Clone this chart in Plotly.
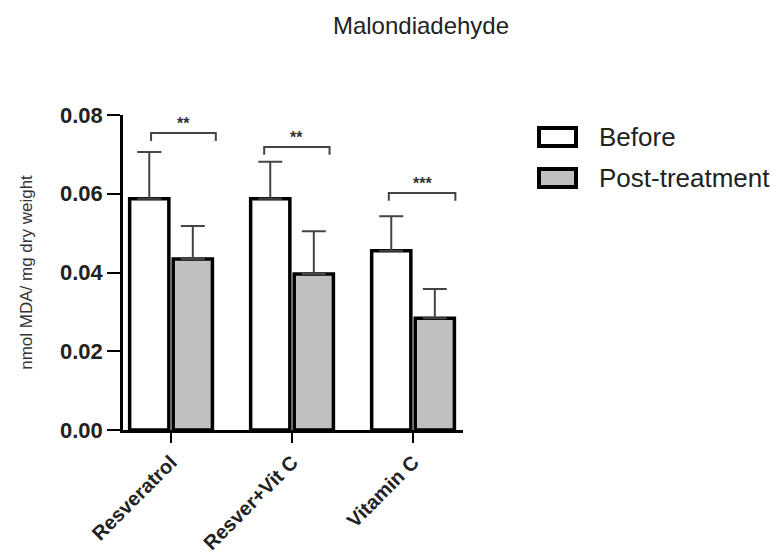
import plotly.graph_objects as go

categories = ["Resveratrol", "Resver+Vit C", "Vitamin C"]
before = [0.0587, 0.0587, 0.0455]
before_err = [0.0119, 0.0094, 0.0088]
post = [0.0434, 0.0396, 0.0284]
post_err = [0.0084, 0.0109, 0.0074]
series_names = ["Before", "Post-treatment"]
series_fill = ["white", "#c0c0c0"]
sig_labels = ["**", "**", "***"]
sig_y = [0.0754, 0.0719, 0.0602]
y_ticks = [0.0, 0.02, 0.04, 0.06, 0.08]

font_family = "Liberation Sans, Arial, sans-serif"

fig = go.Figure()
for name, vals, errs, fill in zip(series_names, [before, post], [before_err, post_err], series_fill):
    fig.add_trace(go.Bar(
        x=categories, y=vals, name=name,
        marker=dict(color=fill, line=dict(color="black", width=3.5)),
        error_y=dict(type="data", array=errs, arrayminus=[0] * len(errs), symmetric=False,
                     color="#444444", thickness=2, width=12),
        showlegend=False,
    ))

offsets = [(-0.165, 0.37), (-0.23, 0.31), (-0.2, 0.35)]
for i, (lab, yb) in enumerate(zip(sig_labels, sig_y)):
    x0 = i + offsets[i][0]
    x1 = i + offsets[i][1]
    drop = 0.002
    fig.add_shape(type="path",
                  path=f"M {x0} {yb-drop} L {x0} {yb} L {x1} {yb} L {x1} {yb-drop}",
                  xref="x", yref="y", line=dict(color="#444444", width=2))
    fig.add_annotation(x=(x0 + x1) / 2, y=yb, text=f"<b>{lab}</b>", showarrow=False,
                       xref="x", yref="y", yanchor="bottom", yshift=-1,
                       font=dict(size=16, color="#333333", family=font_family))

# legend drawn as boxes + labels (paper coordinates)
plot_l, plot_r, plot_t, plot_b = 123, 463, 115, 430
pw, ph = plot_r - plot_l, plot_b - plot_t
def px_x(px):
    return (px - plot_l) / pw
def px_y(py):
    return (plot_b - py) / ph
legend_rows = [137, 178]
for name, fill, yc in zip(series_names, series_fill, legend_rows):
    fig.add_shape(type="rect", xref="paper", yref="paper",
                  x0=px_x(539), x1=px_x(576), y0=px_y(yc + 9), y1=px_y(yc - 9),
                  fillcolor=fill, line=dict(color="black", width=4))
    fig.add_annotation(xref="paper", yref="paper", x=px_x(597), y=px_y(yc),
                       text=name, showarrow=False, xanchor="left", yanchor="middle",
                       font=dict(size=26, color="#222222", family=font_family))

fig.update_layout(
    width=779, height=560,
    paper_bgcolor="white", plot_bgcolor="white",
    margin=dict(l=plot_l, r=779 - plot_r, t=plot_t, b=560 - plot_b),
    barmode="group", bargap=0.28, bargroupgap=0.1,
    title=dict(text="Malondiadehyde", x=421 / 779, xanchor="center", y=1 - 26 / 560,
               yanchor="middle", font=dict(size=24, color="#222222", family=font_family)),
    font=dict(family=font_family, color="#222222"),
    showlegend=False,
)
fig.update_xaxes(
    range=[-0.397, 2.413], showline=True, linecolor="black", linewidth=2.5,
    ticks="outside", ticklen=10, tickwidth=2, tickcolor="black",
    tickangle=-45, tickfont=dict(size=20, color="#222222", family=font_family),
    tickprefix="<b>", ticksuffix="</b>", showgrid=False, zeroline=False,
    automargin=False,
)
fig.update_yaxes(
    range=[0, 0.08], tickvals=y_ticks, ticktext=[f"<b>{v:.2f}</b>" for v in y_ticks],
    showline=True, linecolor="black", linewidth=2.5,
    ticks="outside", ticklen=13, tickwidth=2, tickcolor="black",
    tickfont=dict(size=22, color="#222222", family=font_family),
    title=dict(text="nmol MDA/ mg dry weight", font=dict(size=17, color="#333333", family=font_family),
               standoff=24),
    showgrid=False, zeroline=False, automargin=False,
)

fig.write_html("out.html")
